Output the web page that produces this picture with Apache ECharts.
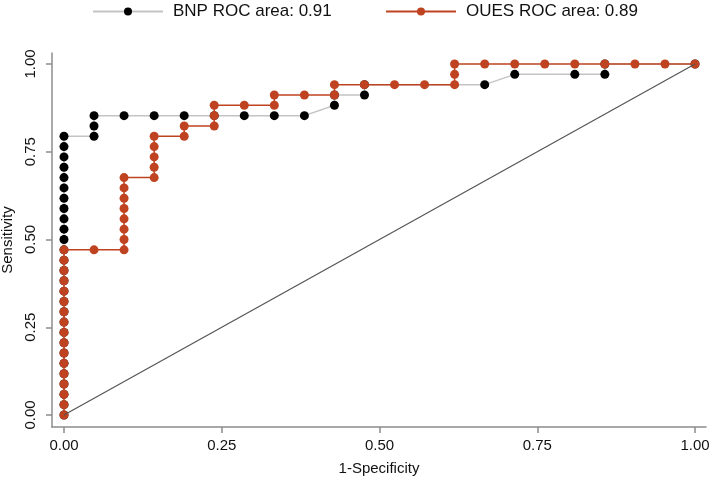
<!DOCTYPE html>
<html>
<head>
<meta charset="utf-8">
<script src="https://cdn.jsdelivr.net/npm/echarts@6/dist/echarts.min.js"></script>
<style>
html,body{margin:0;padding:0;background:#fff;}
#chart{width:714px;height:482px;}
</style>
</head>
<body>
<div id="chart"></div>
<script>
// ----- Data -----
const seriesNames = ['BNP ROC area: 0.91', 'OUES ROC area: 0.89'];
const tickValues = [0, 0.25, 0.5, 0.75, 1];

// BNP: 1-Specificity (x) and Sensitivity (y)
const bnpX = [0,0,0,0,0,0,0,0,0,0,0,0,0,0,0,0,0,0,0,0,0,0,0,0,0,0,0,0,
  0.0476,0.0476,0.0476,0.0952,0.1429,0.1905,0.2381,0.2857,0.3333,0.3810,
  0.4286,0.4286,0.4762,0.4762,0.6667,0.7143,0.8095,0.8571,0.8571,1];
const bnpY = [0,0.0294,0.0588,0.0882,0.1176,0.1471,0.1765,0.2059,0.2353,0.2647,0.2941,0.3235,0.3529,0.3824,
  0.4118,0.4412,0.4706,0.5,0.5294,0.5588,0.5882,0.6176,0.6471,0.6765,0.7059,0.7353,0.7647,0.7941,
  0.7941,0.8235,0.8529,0.8529,0.8529,0.8529,0.8529,0.8529,0.8529,0.8529,
  0.8824,0.9118,0.9118,0.9412,0.9412,0.9706,0.9706,0.9706,1,1];

// OUES: 1-Specificity (x) and Sensitivity (y)
const ouesX = [0,0,0,0,0,0,0,0,0,0,0,0,0,0,0,0,0,
  0.0476,
  0.0952,0.0952,0.0952,0.0952,0.0952,0.0952,0.0952,0.0952,
  0.1429,0.1429,0.1429,0.1429,0.1429,
  0.1905,0.1905,
  0.2381,0.2381,0.2381,
  0.2857,
  0.3333,0.3333,
  0.3810,
  0.4286,0.4286,
  0.4762,0.5238,0.5714,
  0.6190,0.6190,0.6190,
  0.6667,0.7143,0.7619,0.8095,0.8571,0.9048,0.9524,1];
const ouesY = [0,0.0294,0.0588,0.0882,0.1176,0.1471,0.1765,0.2059,0.2353,0.2647,0.2941,0.3235,0.3529,0.3824,0.4118,0.4412,0.4706,
  0.4706,
  0.4706,0.5,0.5294,0.5588,0.5882,0.6176,0.6471,0.6765,
  0.6765,0.7059,0.7353,0.7647,0.7941,
  0.7941,0.8235,
  0.8235,0.8529,0.8824,
  0.8824,
  0.8824,0.9118,
  0.9118,
  0.9118,0.9412,
  0.9412,0.9412,0.9412,
  0.9412,0.9706,1,
  1,1,1,1,1,1,1,1];

// Reference (chance) line
const refX = [0, 1];
const refY = [0, 1];

// ----- Chart -----
const FONT = "'Liberation Sans', Arial, Helvetica, sans-serif";
const RED = '#bf4320';
const zip = (xs, ys) => xs.map((x, i) => [x, ys[i]]);

const chart = echarts.init(document.getElementById('chart'), null, {renderer: 'canvas'});
const axisCol = '#8c8c8c';

chart.setOption({
  animation: false,
  backgroundColor: '#ffffff',
  textStyle: {fontFamily: FONT},
  grid: {left: 52, right: 8, top: 53, bottom: 55, containLabel: false, outerBoundsMode: 'none'},
  legend: [
    {
      data: [seriesNames[0]],
      left: 92, top: 3, padding: 0,
      itemWidth: 70, itemHeight: 10, itemGap: 10,
      textStyle: {fontFamily: FONT, fontSize: 17, color: '#111', padding: [0, 0, 0, 5]}
    },
    {
      data: [seriesNames[1]],
      left: 385, top: 3, padding: 0,
      itemWidth: 70, itemHeight: 10, itemGap: 10,
      textStyle: {fontFamily: FONT, fontSize: 17, color: '#111', padding: [0, 0, 0, 5]}
    }
  ],
  xAxis: {
    type: 'value',
    min: -0.019, max: 1.0174,
    name: '1-Specificity',
    nameLocation: 'middle',
    nameGap: 34,
    nameTextStyle: {fontFamily: FONT, fontSize: 15, color: '#111'},
    axisLine: {show: true, onZero: false, lineStyle: {color: axisCol, width: 1.5}},
    axisTick: {show: true, length: 6, lineStyle: {color: axisCol, width: 1.5}, customValues: tickValues},
    axisLabel: {show: true, fontFamily: FONT, fontSize: 15, color: '#111', margin: 11,
      customValues: tickValues, formatter: v => v.toFixed(2)},
    splitLine: {show: false}
  },
  yAxis: {
    type: 'value',
    min: -0.0342, max: 1.0314,
    name: 'Sensitivity',
    nameLocation: 'middle',
    nameGap: 31,
    nameRotate: 90,
    nameTextStyle: {fontFamily: FONT, fontSize: 15, color: '#111'},
    axisLine: {show: true, onZero: false, lineStyle: {color: axisCol, width: 1.5}},
    axisTick: {show: true, length: 6, lineStyle: {color: axisCol, width: 1.5}, customValues: tickValues},
    axisLabel: {show: true, fontFamily: FONT, fontSize: 15, color: '#111', margin: 14, rotate: 90,
      customValues: tickValues, formatter: v => v.toFixed(2)},
    splitLine: {show: false}
  },
  series: [
    {
      name: seriesNames[0],
      type: 'line',
      data: zip(bnpX, bnpY),
      symbol: 'circle',
      symbolSize: 9,
      showAllSymbol: true,
      itemStyle: {color: '#000000'},
      lineStyle: {color: '#c4c4c4', width: 1.5},
      z: 2
    },
    {
      name: seriesNames[1],
      type: 'line',
      data: zip(ouesX, ouesY),
      symbol: 'circle',
      symbolSize: 9,
      showAllSymbol: true,
      itemStyle: {color: RED},
      lineStyle: {color: RED, width: 1.5},
      z: 3
    },
    {
      name: 'reference',
      type: 'line',
      data: zip(refX, refY),
      symbol: 'none',
      lineStyle: {color: '#555555', width: 1.2},
      z: 4,
      silent: true
    }
  ]
});
</script>
</body>
</html>
